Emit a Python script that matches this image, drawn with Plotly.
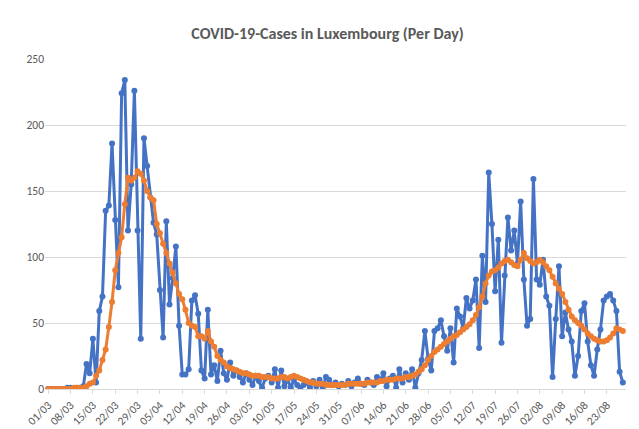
import pandas as pd
import plotly.graph_objects as go

# ── Data ─────────────────────────────────────────────────────────────────────
dates = pd.date_range("2020-03-01", periods=181, freq="D")

cases_mar = [0, 0, 0, 0, 0, 0, 1, 1, 0, 1, 1, 2, 19, 12, 38, 5, 59, 70, 135, 139,
             186, 128, 77, 224, 234, 120, 155, 226, 120, 38, 190]
cases_apr = [169, 145, 126, 117, 75, 39, 127, 64, 84, 108, 48, 11, 11, 15, 67,
             71, 57, 14, 8, 60, 11, 18, 6, 29, 12, 7, 20, 10, 14, 9]
cases_may = [5, 12, 7, 3, 10, 6, 1, 8, 10, 5, 15, 1, 14, 2, 7, 1, 7, 3, 1, 3,
             5, 1, 6, 2, 7, 1, 9, 7, 3, 5, 2]
cases_jun = [4, 3, 6, 2, 5, 8, 4, 3, 7, 5, 3, 9, 6, 12, 2, 8, 10, 1, 15, 5, 12, 7]
cases_late = [15, 1, 12, 22, 44, 23, 14, 44, 46, 52, 40, 29, 46, 20, 61, 55, 46,
              69, 61, 67, 83, 31, 101, 66, 164, 125, 74, 113, 35, 86, 130, 105,
              120, 95, 142, 83, 48, 53, 159, 83, 79, 98, 70, 63, 9, 53, 93, 40,
              58, 45, 36, 10, 25, 59, 65, 36, 18, 10, 30, 45, 67, 70, 72, 67,
              59, 13, 5]
cases = cases_mar + cases_apr + cases_may + cases_jun + cases_late

avg_mar = [0, 0, 0, 0, 0, 0, 0, 0, 1, 1, 1, 1, 2, 4, 5, 10, 14, 22, 30, 47, 66,
           90, 103, 115, 140, 160, 158, 160, 165, 163, 158]
avg_apr = [150, 145, 143, 125, 118, 110, 103, 95, 88, 80, 72, 68, 60, 50, 48,
           47, 40, 40, 38, 44, 36, 32, 25, 22, 20, 17, 16, 15, 14, 13]
avg_may = [12, 12, 11, 10, 10, 10, 9, 9, 9, 8, 8, 8, 9, 9, 8, 9, 10, 9, 8, 7,
           6, 5, 5, 4, 4, 4, 3, 3, 3, 3, 3]
avg_jun = [3, 3, 4, 4, 4, 4, 4, 4, 5, 5, 5, 5, 6, 6, 7, 7, 7, 8, 8, 8, 9, 9]
avg_late = [10, 11, 13, 15, 18, 22, 25, 28, 30, 32, 34, 36, 38, 40, 41, 43, 45,
            47, 49, 52, 56, 62, 70, 80, 86, 89, 90, 92, 95, 97, 98, 96, 94, 93,
            98, 103, 99, 97, 95, 96, 98, 96, 93, 90, 85, 80, 76, 72, 66, 60, 55,
            52, 50, 48, 45, 42, 40, 38, 37, 36, 36, 37, 39, 42, 46, 45, 44]
avg = avg_mar + avg_apr + avg_may + avg_jun + avg_late

tick_dates = pd.date_range("2020-03-01", "2020-08-23", freq="7D")
tick_labels = [d.strftime("%d/%m") for d in tick_dates]

# ── Figure ───────────────────────────────────────────────────────────────────
fig = go.Figure()
fig.add_trace(go.Scatter(
    x=dates, y=cases, mode="lines+markers",
    line=dict(color="#4472C4", width=3),
    marker=dict(color="#4472C4", size=6),
    name="Cases",
))
fig.add_trace(go.Scatter(
    x=dates, y=avg, mode="lines+markers",
    line=dict(color="#ED7D31", width=3),
    marker=dict(color="#ED7D31", size=6),
    name="Average",
))

fig.update_layout(
    title=dict(text="<b>COVID-19-Cases in Luxembourg (Per Day)</b>",
               x=0.5, y=0.955, font=dict(size=16, color="#595959")),
    width=639, height=429,
    paper_bgcolor="white", plot_bgcolor="white",
    font=dict(family="Calibri, Carlito, Liberation Sans, sans-serif",
              color="#595959", size=11),
    showlegend=False,
    margin=dict(l=37, r=21, t=51, b=48, autoexpand=False),
    xaxis=dict(
        tickvals=tick_dates, ticktext=tick_labels, tickangle=-45,
        range=[dates[0] - pd.Timedelta(days=1), dates[-1] + pd.Timedelta(days=1)],
        showgrid=False, showline=True, linecolor="#D9D9D9",
        ticks="outside", tickcolor="#D9D9D9", ticklen=4,
        tickfont=dict(size=11.5), automargin=False,
    ),
    yaxis=dict(
        range=[0, 250], dtick=50, showgrid=True, gridcolor="#D9D9D9",
        zeroline=False, ticks="", automargin=False, tickfont=dict(size=11.5),
    ),
)

fig.write_html("out.html")
